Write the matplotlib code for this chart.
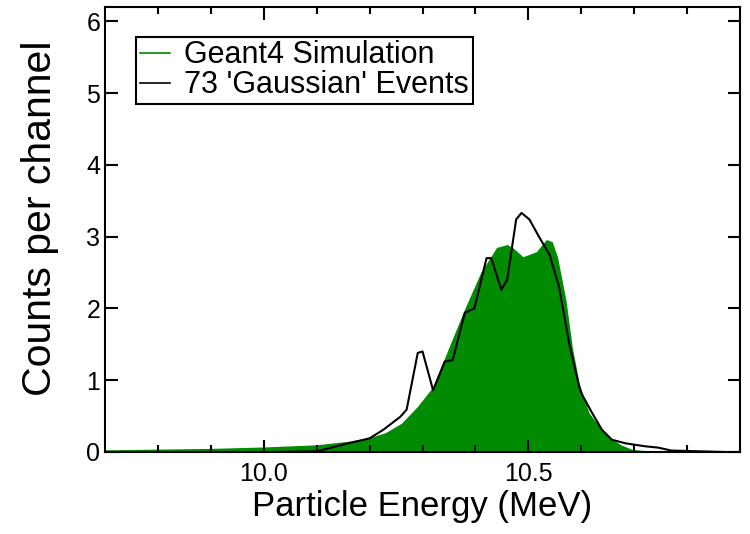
import numpy as np
import matplotlib
matplotlib.use('Agg')
import matplotlib.pyplot as plt
from matplotlib.lines import Line2D

plt.rcParams.update({
    'font.family': ['Liberation Sans', 'DejaVu Sans'],
    'axes.linewidth': 1.5,
    'xtick.direction': 'in',
    'ytick.direction': 'in',
    'xtick.top': True,
    'ytick.right': True,
})

# Geant4 simulation (filled)
sim_energy = [9.70, 9.80, 9.90, 10.00, 10.10, 10.16, 10.20, 10.23, 10.26, 10.29,
              10.32, 10.35, 10.38, 10.41, 10.44, 10.46, 10.47, 10.49, 10.515,
              10.534, 10.545, 10.555, 10.571, 10.583, 10.596, 10.615, 10.635,
              10.652, 10.675, 10.695, 10.73, 10.90]
sim_counts = [0.03, 0.04, 0.05, 0.07, 0.10, 0.15, 0.20, 0.27, 0.40, 0.63,
              0.91, 1.46, 2.00, 2.50, 2.85, 2.89, 2.85, 2.72, 2.79,
              2.96, 2.93, 2.72, 2.12, 1.46, 0.96, 0.54, 0.35,
              0.21, 0.10, 0.04, 0.01, 0.0]

# 73 'Gaussian' events
gau_energy = [10.02, 10.10, 10.16, 10.20, 10.226, 10.258, 10.27, 10.291, 10.30,
              10.32, 10.342, 10.357, 10.38, 10.398, 10.421, 10.43, 10.449, 10.46,
              10.477, 10.487, 10.502, 10.52, 10.54, 10.558, 10.577, 10.596, 10.60,
              10.62, 10.639, 10.658, 10.684, 10.72, 10.746, 10.77, 10.87]
gau_counts = [0.0, 0.01, 0.12, 0.19, 0.31, 0.49, 0.59, 1.38, 1.40,
              0.86, 1.26, 1.28, 1.94, 2.00, 2.70, 2.70, 2.26, 2.40,
              3.24, 3.33, 3.24, 3.00, 2.75, 2.30, 1.52, 0.91, 0.82,
              0.55, 0.31, 0.17, 0.12, 0.08, 0.06, 0.02, 0.0]

green = '#008b00'

fig = plt.figure(figsize=(7.5, 5.34), dpi=100)
ax = fig.add_axes([0.14, 0.1536, 0.8467, 0.8334])

ax.fill_between(sim_energy, 0, sim_counts, color=green, linewidth=0)
ax.plot(gau_energy, gau_counts, color='black', linewidth=1.5)

ax.set_xlim(9.7, 10.9)
ax.set_ylim(0, 6.2)
ax.set_xticks([10.0, 10.5])
ax.set_xticklabels(['10.0', '10.5'])
ax.set_xticks(np.arange(9.8, 10.9, 0.1), minor=True)
ax.set_yticks(range(0, 7))
ax.tick_params(which='major', length=9, width=1.5, labelsize=18)
ax.tick_params(which='minor', length=5, width=1.5)
ax.tick_params(axis='x', pad=7)
ax.tick_params(axis='y', pad=3.5)

ax.set_xlabel('Particle Energy (MeV)', fontsize=25, labelpad=3)
ax.set_ylabel('Counts per channel', fontsize=29.5)
ax.yaxis.set_label_coords(-0.073, 0.525)

handles = [Line2D([], [], color=green, linewidth=1.2),
           Line2D([], [], color='black', linewidth=1.2)]
leg = ax.legend(handles, ['Geant4 Simulation', "73 'Gaussian' Events"],
                loc='upper left', bbox_to_anchor=(0.049, 0.933),
                borderaxespad=0, fontsize=22, fancybox=False,
                framealpha=1, edgecolor='black', handlelength=1.0,
                handletextpad=0.45, labelspacing=0.0, borderpad=0.12)
leg.get_frame().set_linewidth(1.5)

fig.savefig('out.png', dpi=100)
